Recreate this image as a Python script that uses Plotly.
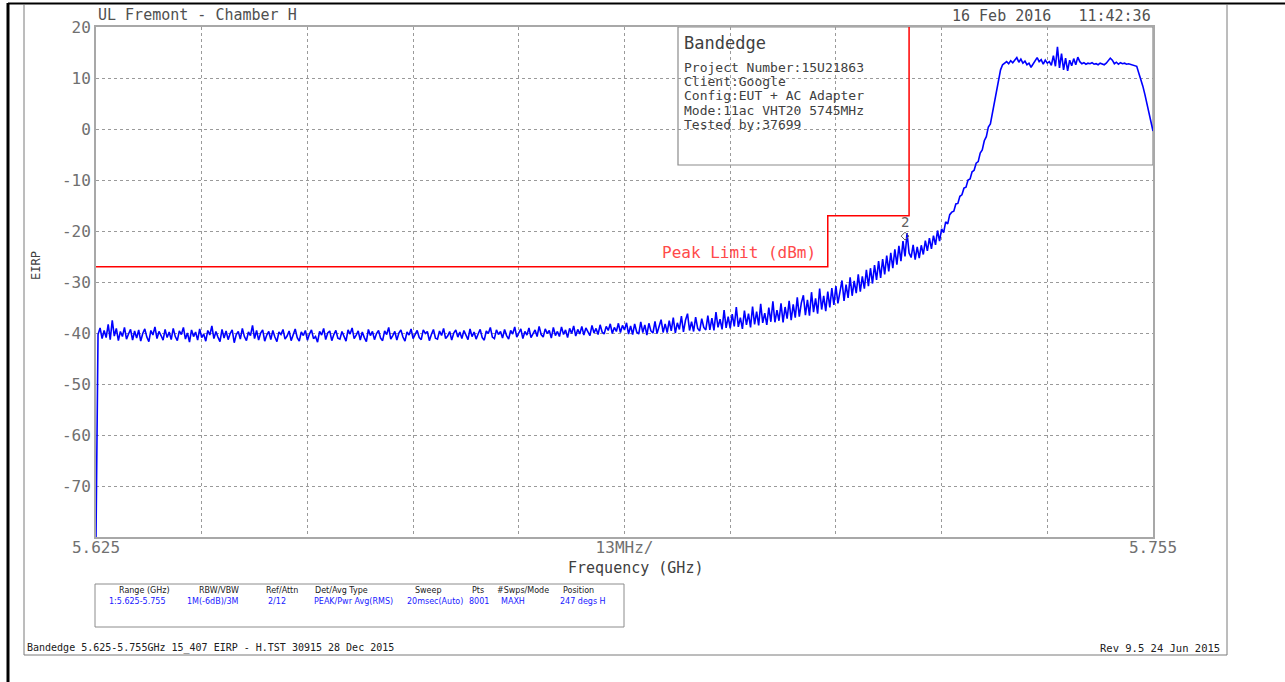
import plotly.graph_objects as go

# ---------------- data ----------------
# Noise floor, 5625.00 - 5690.00 MHz
FLOOR_FREQ_MHZ = [
    5625.00, 5625.25, 5625.50, 5625.75, 5626.00, 5626.25, 5626.50, 5626.75, 5627.00, 5627.25,
    5627.50, 5627.75, 5628.00, 5628.25, 5628.50, 5628.75, 5629.00, 5629.25, 5629.50, 5629.75,
    5630.00, 5630.25, 5630.50, 5630.75, 5631.00, 5631.25, 5631.50, 5631.75, 5632.00, 5632.25,
    5632.50, 5632.75, 5633.00, 5633.25, 5633.50, 5633.75, 5634.00, 5634.25, 5634.50, 5634.75,
    5635.00, 5635.25, 5635.50, 5635.75, 5636.00, 5636.25, 5636.50, 5636.75, 5637.00, 5637.25,
    5637.50, 5637.75, 5638.00, 5638.25, 5638.50, 5638.75, 5639.00, 5639.25, 5639.50, 5639.75,
    5640.00, 5640.25, 5640.50, 5640.75, 5641.00, 5641.25, 5641.50, 5641.75, 5642.00, 5642.25,
    5642.50, 5642.75, 5643.00, 5643.25, 5643.50, 5643.75, 5644.00, 5644.25, 5644.50, 5644.75,
    5645.00, 5645.25, 5645.50, 5645.75, 5646.00, 5646.25, 5646.50, 5646.75, 5647.00, 5647.25,
    5647.50, 5647.75, 5648.00, 5648.25, 5648.50, 5648.75, 5649.00, 5649.25, 5649.50, 5649.75,
    5650.00, 5650.25, 5650.50, 5650.75, 5651.00, 5651.25, 5651.50, 5651.75, 5652.00, 5652.25,
    5652.50, 5652.75, 5653.00, 5653.25, 5653.50, 5653.75, 5654.00, 5654.25, 5654.50, 5654.75,
    5655.00, 5655.25, 5655.50, 5655.75, 5656.00, 5656.25, 5656.50, 5656.75, 5657.00, 5657.25,
    5657.50, 5657.75, 5658.00, 5658.25, 5658.50, 5658.75, 5659.00, 5659.25, 5659.50, 5659.75,
    5660.00, 5660.25, 5660.50, 5660.75, 5661.00, 5661.25, 5661.50, 5661.75, 5662.00, 5662.25,
    5662.50, 5662.75, 5663.00, 5663.25, 5663.50, 5663.75, 5664.00, 5664.25, 5664.50, 5664.75,
    5665.00, 5665.25, 5665.50, 5665.75, 5666.00, 5666.25, 5666.50, 5666.75, 5667.00, 5667.25,
    5667.50, 5667.75, 5668.00, 5668.25, 5668.50, 5668.75, 5669.00, 5669.25, 5669.50, 5669.75,
    5670.00, 5670.25, 5670.50, 5670.75, 5671.00, 5671.25, 5671.50, 5671.75, 5672.00, 5672.25,
    5672.50, 5672.75, 5673.00, 5673.25, 5673.50, 5673.75, 5674.00, 5674.25, 5674.50, 5674.75,
    5675.00, 5675.25, 5675.50, 5675.75, 5676.00, 5676.25, 5676.50, 5676.75, 5677.00, 5677.25,
    5677.50, 5677.75, 5678.00, 5678.25, 5678.50, 5678.75, 5679.00, 5679.25, 5679.50, 5679.75,
    5680.00, 5680.25, 5680.50, 5680.75, 5681.00, 5681.25, 5681.50, 5681.75, 5682.00, 5682.25,
    5682.50, 5682.75, 5683.00, 5683.25, 5683.50, 5683.75, 5684.00, 5684.25, 5684.50, 5684.75,
    5685.00, 5685.25, 5685.50, 5685.75, 5686.00, 5686.25, 5686.50, 5686.75, 5687.00, 5687.25,
    5687.50, 5687.75, 5688.00, 5688.25, 5688.50, 5688.75, 5689.00, 5689.25, 5689.50, 5689.75,
    5690.00,
]
FLOOR_EIRP_DBM = [
    -80.0, -40.3, -39.0, -41.1, -39.5, -40.9, -38.3, -41.3, -37.5, -40.6,
    -39.1, -41.5, -39.7, -40.7, -38.9, -41.2, -40.2, -39.3, -41.4, -39.6,
    -41.0, -39.4, -41.6, -40.1, -39.2, -40.8, -41.7, -39.5, -40.4, -38.8,
    -41.1, -39.7, -40.5, -41.4, -39.3, -40.9, -39.8, -41.3, -39.1, -40.7,
    -41.5, -39.6, -40.3, -38.9, -41.2, -40.0, -41.8, -39.4, -40.7, -39.8,
    -41.4, -39.2, -40.9, -40.2, -41.6, -39.5, -40.4, -38.6, -41.1, -39.7,
    -40.8, -41.7, -39.3, -41.0, -39.6, -41.3, -40.1, -39.4, -41.9, -40.3,
    -39.7, -41.2, -39.1, -40.7, -41.5, -39.8, -40.5, -38.5, -41.1, -39.5,
    -41.4, -40.0, -39.4, -41.6, -40.4, -39.7, -41.3, -39.5, -40.8, -41.7,
    -39.8, -40.3, -39.3, -41.2, -40.6, -39.6, -41.5, -40.1, -39.2, -40.9,
    -41.6, -39.8, -40.5, -39.5, -41.4, -40.2, -39.4, -41.1, -40.7, -41.8,
    -39.7, -40.4, -39.1, -41.3, -40.0, -39.6, -41.5, -40.3, -39.5, -41.0,
    -41.2, -39.7, -40.6, -41.6, -39.4, -40.2, -39.0, -41.1, -40.4, -39.6,
    -41.4, -39.8, -40.9, -41.7, -39.3, -40.5, -39.7, -41.3, -40.1, -39.5,
    -41.0, -41.5, -39.6, -40.3, -38.9, -41.2, -40.5, -39.7, -41.4, -40.0,
    -39.4, -40.8, -41.6, -39.8, -40.4, -39.2, -41.1, -40.2, -39.5, -40.9,
    -41.3, -39.4, -40.1, -39.7, -41.5, -40.3, -39.3, -41.0, -41.2, -39.6,
    -40.5, -39.1, -41.1, -40.6, -39.7, -41.4, -40.0, -39.4, -40.8, -39.8,
    -41.1, -39.5, -40.4, -41.3, -39.2, -40.7, -39.8, -41.2, -40.2, -39.3,
    -40.9, -41.4, -39.6, -40.1, -38.9, -40.8, -41.1, -39.4, -40.3, -39.7,
    -41.0, -39.3, -40.5, -41.2, -39.5, -40.2, -38.8, -40.8, -40.0, -39.2,
    -41.1, -39.7, -40.4, -39.0, -40.9, -40.1, -39.4, -40.7, -38.7, -40.3,
    -40.8, -39.2, -40.1, -39.5, -41.0, -38.9, -40.5, -39.7, -40.7, -38.8,
    -40.3, -39.4, -40.9, -39.1, -40.1, -38.6, -40.6, -39.3, -40.2, -38.7,
    -40.4, -39.0, -39.8, -40.5, -38.5, -40.0, -39.1, -40.3, -38.4, -39.8,
    -40.2, -38.7, -39.5, -38.2, -40.1, -38.9, -39.7, -38.1, -39.9, -38.5,
    -39.4,
]

# Rising skirt, 5690.25 - 5736.50 MHz
SKIRT_FREQ_MHZ = [
    5690.25, 5690.50, 5690.75, 5691.00, 5691.25, 5691.50, 5691.75, 5692.00, 5692.25, 5692.50,
    5692.75, 5693.00, 5693.25, 5693.50, 5693.75, 5694.00, 5694.25, 5694.50, 5694.75, 5695.00,
    5695.25, 5695.50, 5695.75, 5696.00, 5696.25, 5696.50, 5696.75, 5697.00, 5697.25, 5697.50,
    5697.75, 5698.00, 5698.25, 5698.50, 5698.75, 5699.00, 5699.25, 5699.50, 5699.75, 5700.00,
    5700.25, 5700.50, 5700.75, 5701.00, 5701.25, 5701.50, 5701.75, 5702.00, 5702.25, 5702.50,
    5702.75, 5703.00, 5703.25, 5703.50, 5703.75, 5704.00, 5704.25, 5704.50, 5704.75, 5705.00,
    5705.25, 5705.50, 5705.75, 5706.00, 5706.25, 5706.50, 5706.75, 5707.00, 5707.25, 5707.50,
    5707.75, 5708.00, 5708.25, 5708.50, 5708.75, 5709.00, 5709.25, 5709.50, 5709.75, 5710.00,
    5710.25, 5710.50, 5710.75, 5711.00, 5711.25, 5711.50, 5711.75, 5712.00, 5712.25, 5712.50,
    5712.75, 5713.00, 5713.25, 5713.50, 5713.75, 5714.00, 5714.25, 5714.50, 5714.75, 5715.00,
    5715.25, 5715.50, 5715.75, 5716.00, 5716.25, 5716.50, 5716.75, 5717.00, 5717.25, 5717.50,
    5717.75, 5718.00, 5718.25, 5718.50, 5718.75, 5719.00, 5719.25, 5719.50, 5719.75, 5720.00,
    5720.25, 5720.50, 5720.75, 5721.00, 5721.25, 5721.50, 5721.75, 5722.00, 5722.25, 5722.50,
    5722.75, 5723.00, 5723.25, 5723.50, 5723.75, 5724.00, 5724.25, 5724.50, 5724.75, 5725.00,
    5725.25, 5725.50, 5725.75, 5726.00, 5726.25, 5726.50, 5726.75, 5727.00, 5727.25, 5727.50,
    5727.75, 5728.00, 5728.25, 5728.50, 5728.75, 5729.00, 5729.25, 5729.50, 5729.75, 5730.00,
    5730.25, 5730.50, 5730.75, 5731.00, 5731.25, 5731.50, 5731.75, 5732.00, 5732.25, 5732.50,
    5732.75, 5733.00, 5733.25, 5733.50, 5733.75, 5734.00, 5734.25, 5734.50, 5734.75, 5735.00,
    5735.25, 5735.50, 5735.75, 5736.00, 5736.25, 5736.50,
]
SKIRT_EIRP_DBM = [
    -38.0, -40.2, -38.6, -40.3, -38.2, -39.8, -40.2, -37.8, -39.9, -38.4,
    -40.4, -38.1, -39.6, -40.0, -37.7, -40.1, -38.5, -37.4, -39.9, -38.2,
    -39.9, -37.6, -39.6, -37.0, -40.0, -38.0, -39.3, -36.7, -39.8, -37.5,
    -36.2, -39.5, -37.8, -39.7, -36.9, -39.1, -39.6, -37.2, -38.9, -39.4,
    -36.6, -39.4, -37.1, -39.5, -35.9, -38.9, -37.3, -39.3, -35.5, -39.0,
    -36.8, -39.1, -36.3, -38.7, -34.9, -38.8, -37.0, -39.2, -35.6, -38.4,
    -36.2, -38.9, -34.8, -38.3, -35.8, -38.5, -34.3, -38.0, -36.1, -38.4,
    -35.0, -37.8, -33.8, -37.9, -35.5, -37.6, -34.2, -37.9, -34.9, -37.2,
    -33.7, -37.5, -34.4, -37.0, -33.0, -36.8, -34.1, -32.6, -36.5, -33.5,
    -36.6, -32.0, -35.9, -33.2, -36.2, -31.3, -35.4, -32.7, -35.7, -31.9,
    -35.0, -31.2, -34.5, -30.8, -34.2, -31.7, -29.7, -33.7, -30.5, -33.1,
    -29.1, -32.7, -29.8, -32.2, -28.5, -31.9, -28.9, -31.3, -27.6, -30.8,
    -27.3, -30.3, -26.7, -29.6, -25.9, -29.2, -25.5, -28.5, -24.8, -27.9,
    -24.3, -27.3, -23.6, -26.6, -22.9, -25.9, -22.0, -25.0, -20.4, -24.3,
    -25.2, -22.7, -25.6, -23.1, -25.3, -22.8, -24.6, -21.9, -23.9, -21.4,
    -23.5, -20.9, -22.7, -19.9, -22.0, -19.6, -20.3, -18.2, -18.6, -16.8,
    -16.3, -16.1, -14.7, -14.6, -13.2, -12.9, -11.6, -11.4, -10.0, -9.8,
    -8.4, -8.1, -6.7, -6.4, -4.7, -4.1, -2.3, -1.5, 0.4, 1.0,
    3.2, 5.4, 7.6, 9.8, 11.6, 12.6,
]

# Channel top and upper roll-off, 5737.00 - 5755.00 MHz
CHANNEL_FREQ_MHZ = [
    5737.00, 5737.25, 5737.50, 5737.75, 5738.00, 5738.25, 5738.50, 5738.75, 5739.00, 5739.25, 5739.50, 5739.75,
    5740.00, 5740.25, 5740.50, 5740.75, 5741.00, 5741.25, 5741.50, 5741.75, 5742.00, 5742.25, 5742.50, 5742.75,
    5743.00, 5743.25, 5743.50, 5743.75, 5744.00, 5744.25, 5744.50, 5744.75, 5745.00, 5745.25, 5745.50, 5745.75,
    5746.00, 5746.25, 5746.50, 5746.75, 5747.00, 5747.25, 5747.50, 5747.75, 5748.00, 5748.25, 5748.50, 5748.75,
    5749.00, 5749.25, 5749.50, 5749.75, 5750.00, 5750.25, 5750.50, 5750.75, 5751.00, 5751.25, 5751.50, 5751.75,
    5752.00, 5752.25, 5752.50,
    5752.75, 5753.00, 5753.25, 5753.50, 5753.75, 5754.00, 5754.25, 5754.50, 5754.75, 5755.00,
]
CHANNEL_EIRP_DBM = [
    13.2, 12.8, 13.4, 13.0, 13.6, 14.0, 13.1, 13.7, 12.9, 13.3, 12.6, 12.9,
    12.1, 12.7, 13.4, 14.0, 13.2, 13.6, 12.7, 13.5, 12.9, 13.2, 12.5, 14.4,
    12.3, 16.1, 12.0, 14.8, 11.6, 13.9, 11.4, 13.5, 12.4, 13.8, 12.6, 14.1,
    13.2, 12.8, 13.0, 12.7, 12.9, 12.8, 13.0, 12.7, 12.8, 12.6, 12.9, 12.7,
    12.6, 12.9, 13.3, 13.9, 13.5, 12.8, 13.1, 12.7, 13.0, 12.8, 12.9, 12.7,
    12.8, 12.7, 12.6,
    12.4, 12.3, 11.0, 9.8, 8.4, 6.8, 5.0, 3.2, 1.4, -0.4,
]

LIMIT_FREQ_GHZ = [5.625, 5.715, 5.715, 5.725, 5.725, 5.755]
LIMIT_DBM = [-27.0, -27.0, -17.0, -17.0, 27.0, 27.0]

MARKER_FREQ_GHZ = [5.7245]
MARKER_DBM = [-21.0]
MARKER_LABELS = ["2"]

X_GRID_GHZ = [5.625, 5.638, 5.651, 5.664, 5.677, 5.690, 5.703, 5.716, 5.729, 5.742, 5.755]
X_TICK_LABELS = ["5.625", "", "", "", "", "13MHz/", "", "", "", "", "5.755"]
Y_TICKS = [20, 10, 0, -10, -20, -30, -40, -50, -60, -70]
Y_TICK_LABELS = ["20", "10", "0", "-10", "-20", "-30", "-40", "-50", "-60", "-70"]

TITLE_TEXT = "UL Fremont - Chamber H"
DATE_TEXT = "16 Feb 2016   11:42:36"
BOX_TITLE = "Bandedge"
BOX_LINES = [
    "Project Number:15U21863",
    "Client:Google",
    "Config:EUT + AC Adapter",
    "Mode:11ac VHT20 5745MHz",
    "Tested by:37699",
]
LIMIT_LABEL = "Peak Limit (dBm)"
X_TITLE = "Frequency (GHz)"
Y_TITLE = "EIRP"
INFO_HEADERS = ["Range (GHz)", "RBW/VBW", "Ref/Attn", "Det/Avg Type", "Sweep",
                "Pts", "#Swps/Mode", "Position"]
INFO_VALUES = ["1:5.625-5.755", "1M(-6dB)/3M", "2/12", "PEAK/Pwr Avg(RMS)",
               "20msec(Auto)", "8001", "MAXH", "247 degs H"]
FOOTER_LEFT = "Bandedge 5.625-5.755GHz 15_407 EIRP - H.TST 30915 28 Dec 2015"
FOOTER_RIGHT = "Rev 9.5 24 Jun 2015"

# ---------------- figure ----------------
FONT = "DejaVu Sans Mono"
W_FIG, H_FIG = 1285, 682
L, T, PW, PH = 96, 27, 1057, 510


def PX(x):
    return (x - L) / PW


def PY(y):
    return (T + PH - y) / PH


freq_ghz = [f / 1000.0 for f in FLOOR_FREQ_MHZ + SKIRT_FREQ_MHZ + CHANNEL_FREQ_MHZ]
eirp = FLOOR_EIRP_DBM + SKIRT_EIRP_DBM + CHANNEL_EIRP_DBM

fig = go.Figure()
fig.add_trace(go.Scatter(x=freq_ghz, y=eirp, mode="lines",
                         line=dict(color="#0000ff", width=1.6),
                         hoverinfo="skip", showlegend=False))
fig.add_trace(go.Scatter(x=LIMIT_FREQ_GHZ, y=LIMIT_DBM, mode="lines",
                         line=dict(color="#ff0000", width=1.5),
                         hoverinfo="skip", showlegend=False))
fig.add_trace(go.Scatter(x=MARKER_FREQ_GHZ, y=MARKER_DBM, mode="markers",
                         marker=dict(symbol="diamond-open", size=6,
                                     color="#606060", line=dict(width=1, color="#606060")),
                         hoverinfo="skip", showlegend=False))

ann = []


def text(s, x, y, size, color="#404040", xa="left", ya="middle", family=FONT, angle=0):
    ann.append(dict(text=s, x=x, y=y, xref="paper", yref="paper", showarrow=False,
                    xanchor=xa, yanchor=ya, textangle=angle,
                    font=dict(family=family, size=size, color=color)))


text(TITLE_TEXT, PX(96), PY(15), 15, "#505050")
text(DATE_TEXT, PX(1153), PY(16), 15, "#505050", xa="right")
text(BOX_TITLE, PX(682), PY(43), 17, "#404040")
for i, s in enumerate(BOX_LINES):
    text(s, PX(682), PY(67 + i * 14.5), 13, "#404040")
text(LIMIT_LABEL, PX(818), PY(252), 16, "#ff4a4a", xa="right")
text(X_TITLE, PX(635), PY(568), 15, "#404040", xa="center")
text(Y_TITLE, PX(36), PY(265), 12, "#404040", xa="center", angle=-90)

header_x = [144, 219, 282, 341, 428, 478, 523, 578]
value_x = [137, 213, 277, 353, 435, 479, 513, 583]
for s, x in zip(INFO_HEADERS, header_x):
    text(s, PX(x), PY(590), 8, "#202020", xa="center", family="DejaVu Sans")
for s, x in zip(INFO_VALUES, value_x):
    text(s, PX(x), PY(601), 8, "#2020ff", xa="center", family="DejaVu Sans")
text(FOOTER_LEFT, PX(25), PY(648), 10, "#202020")
text(FOOTER_RIGHT, PX(1222), PY(648), 10.5, "#202020", xa="right")

for fx, fy, lab in zip(MARKER_FREQ_GHZ, MARKER_DBM, MARKER_LABELS):
    ann.append(dict(text=lab, x=fx, y=fy, xref="x", yref="y", showarrow=False,
                    xanchor="center", yanchor="bottom", yshift=4,
                    font=dict(family=FONT, size=14, color="#606060")))

shapes = [
    # legend/info box inside the plot (under traces, over grid)
    dict(type="rect", xref="paper", yref="paper", x0=PX(678), x1=PX(1153),
         y0=PY(165), y1=PY(27), fillcolor="white",
         line=dict(color="#8c8c8c", width=1.2), layer="between"),
    # settings box
    dict(type="rect", xref="paper", yref="paper", x0=PX(95), x1=PX(624),
         y0=PY(627), y1=PY(584), fillcolor="rgba(0,0,0,0)",
         line=dict(color="#8c8c8c", width=1)),
    # page frame
    dict(type="line", xref="paper", yref="paper", x0=PX(8), x1=PX(8),
         y0=PY(3), y1=PY(682), line=dict(color="black", width=3)),
    dict(type="line", xref="paper", yref="paper", x0=PX(8), x1=PX(1285),
         y0=PY(3.5), y1=PY(3.5), line=dict(color="black", width=2)),
    dict(type="line", xref="paper", yref="paper", x0=PX(24), x1=PX(24),
         y0=PY(4), y1=PY(655), line=dict(color="#7a7a7a", width=1)),
    dict(type="line", xref="paper", yref="paper", x0=PX(1227), x1=PX(1227),
         y0=PY(4), y1=PY(655), line=dict(color="#7a7a7a", width=1)),
    dict(type="line", xref="paper", yref="paper", x0=PX(24), x1=PX(1227),
         y0=PY(655), y1=PY(655), line=dict(color="#7a7a7a", width=1)),
]

fig.update_layout(
    width=W_FIG, height=H_FIG,
    margin=dict(l=L, r=W_FIG - L - PW, t=T, b=H_FIG - T - PH, pad=0),
    paper_bgcolor="white", plot_bgcolor="white",
    showlegend=False, hovermode=False,
    annotations=ann, shapes=shapes,
    font=dict(family=FONT),
)
fig.update_xaxes(
    range=[5.625 - 1e-7, 5.755 + 1e-7], tickmode="array",
    tickvals=X_GRID_GHZ, ticktext=X_TICK_LABELS,
    showgrid=True, gridcolor="#9a9a9a", griddash="dot", gridwidth=1,
    showline=True, mirror=True, linecolor="#a8a8a8", linewidth=2,
    ticks="", zeroline=False, ticklabelstandoff=-5,
    tickfont=dict(family=FONT, size=16, color="#707070"),
)
fig.update_yaxes(
    range=[-80, 20], tickmode="array",
    tickvals=Y_TICKS, ticktext=Y_TICK_LABELS,
    showgrid=True, gridcolor="#9a9a9a", griddash="dot", gridwidth=1,
    showline=True, mirror=True, linecolor="#a8a8a8", linewidth=2,
    ticks="", zeroline=False,
    tickfont=dict(family=FONT, size=16, color="#707070"),
)

fig.write_html(
    "out.html",
    config={"displayModeBar": False, "staticPlot": True},
    post_script="document.body.style.margin='0';document.body.style.overflow='hidden';",
)
